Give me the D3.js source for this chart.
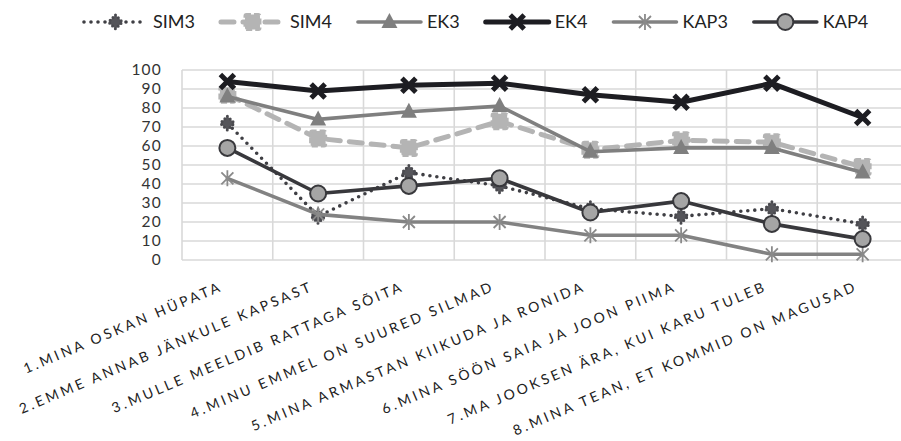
<!DOCTYPE html>
<html>
<head>
<meta charset="utf-8">
<script src="https://cdn.jsdelivr.net/npm/d3@7/dist/d3.min.js"></script>
<style>
  html, body { margin: 0; padding: 0; background: #fff; }
  svg { display: block; }
</style>
</head>
<body>
<svg id="chart" width="901" height="441"></svg>
<script>
// Sentences (categories) along the x axis
const categories = [
  "1.MINA OSKAN HÜPATA",
  "2.EMME ANNAB JÄNKULE KAPSAST",
  "3.MULLE MEELDIB RATTAGA SÕITA",
  "4.MINU EMMEL ON SUURED SILMAD",
  "5.MINA ARMASTAN KIIKUDA JA RONIDA",
  "6.MINA SÖÖN SAIA JA JOON PIIMA",
  "7.MA JOOKSEN ÄRA, KUI KARU TULEB",
  "8.MINA TEAN, ET KOMMID ON MAGUSAD"
];

// Series values (percent)
const sim3 = [72, 23, 46, 39, 27, 23, 27, 19];
const sim4 = [87, 64, 59, 73, 58, 63, 62, 49];
const ek3  = [86, 74, 78, 81, 57, 59, 59, 46];
const ek4  = [94, 89, 92, 93, 87, 83, 93, 75];
const kap3 = [43, 24, 20, 20, 13, 13, 3, 3];
const kap4 = [59, 35, 39, 43, 25, 31, 19, 11];

const yTicks = [0, 10, 20, 30, 40, 50, 60, 70, 80, 90, 100];

const series = [
  { name: "SIM3", values: sim3, stroke: "#3f3f44", width: 3.6, dash: "0 7", cap: "round", marker: "sim3" },
  { name: "SIM4", values: sim4, stroke: "#b4b4b4", width: 5,   dash: "13 9", cap: "round", marker: "square" },
  { name: "EK3",  values: ek3,  stroke: "#7f7f7f", width: 3.6, dash: null,   cap: "round", marker: "triangle" },
  { name: "EK4",  values: ek4,  stroke: "#1d1d22", width: 5,   dash: null,   cap: "round", marker: "x" },
  { name: "KAP3", values: kap3, stroke: "#828282", width: 3.6, dash: null,   cap: "round", marker: "star" },
  { name: "KAP4", values: kap4, stroke: "#38383c", width: 3.6, dash: null,   cap: "round", marker: "circle" }
];

const svg = d3.select("#chart");
const font = "Lato, 'Open Sans', sans-serif";

const plot = { left: 182, right: 908, top: 70, bottom: 260 };

const x = d3.scaleBand().domain(categories).range([plot.left, plot.right]);
const y = d3.scaleLinear().domain([0, 100]).range([plot.bottom, plot.top]);

// Gridlines
const grid = svg.append("g").attr("stroke", "#d9d9d9").attr("stroke-width", 1.6);
grid.selectAll("line.h").data(yTicks).join("line")
  .attr("x1", plot.left).attr("x2", plot.right)
  .attr("y1", d => y(d)).attr("y2", d => y(d));
const edges = categories.map(c => x(c)).concat([plot.right]);
grid.selectAll("line.v").data(edges).join("line")
  .attr("x1", d => d).attr("x2", d => d)
  .attr("y1", plot.top).attr("y2", plot.bottom);

// Y axis labels
const yAxis = d3.axisLeft(y).tickValues(yTicks).tickSize(0).tickPadding(20);
const yg = svg.append("g").attr("transform", `translate(${plot.left},0)`).call(yAxis);
yg.select(".domain").remove();
yg.selectAll("text")
  .attr("font-family", font).attr("font-size", 15.5)
  .attr("letter-spacing", 1.2).attr("fill", "#333");

// X axis labels, rotated
const xg = svg.append("g");
xg.selectAll("text").data(categories).join("text")
  .attr("transform", d => `translate(${x(d) + x.bandwidth() / 2 - 4},${plot.bottom + 30}) rotate(-23)`)
  .attr("text-anchor", "end")
  .attr("font-family", font)
  .attr("font-size", 14)
  .attr("letter-spacing", 3.0)
  .attr("fill", "#222")
  .text(d => d);

// Marker drawing
function drawMarker(g, type) {
  switch (type) {
    case "sim3":
      g.append("path")
        .attr("d", "M0,-7 L7,0 L0,7 L-7,0 Z")
        .attr("fill", "#55555a").attr("stroke", "#4a4a4f").attr("stroke-width", 3)
        .attr("stroke-dasharray", "0 4").attr("stroke-linecap", "round");
      break;
    case "square":
      g.append("rect").attr("x", -7.5).attr("y", -7.5).attr("width", 15).attr("height", 15)
        .attr("rx", 1.5)
        .attr("fill", "#b4b4b4").attr("stroke", "#b4b4b4").attr("stroke-width", 3)
        .attr("stroke-dasharray", "6 3").attr("stroke-dashoffset", 1.5);
      break;
    case "triangle":
      g.append("path").attr("d", "M0,-9 L8,6 L-8,6 Z").attr("fill", "#7f7f7f");
      break;
    case "x":
      g.append("path").attr("d", "M-7,-7 L7,7 M7,-7 L-7,7")
        .attr("stroke", "#1d1d22").attr("stroke-width", 5).attr("fill", "none");
      break;
    case "star":
      g.append("path").attr("d", "M-6,-6 L6,6 M6,-6 L-6,6 M0,-8 L0,8")
        .attr("stroke", "#8a8a8a").attr("stroke-width", 1.8).attr("fill", "none");
      break;
    case "circle":
      g.append("circle").attr("r", 8).attr("fill", "#a5a5a5")
        .attr("stroke", "#38383c").attr("stroke-width", 2);
      break;
  }
}

const line = d3.line()
  .x((d, i) => x(categories[i]) + x.bandwidth() / 2)
  .y(d => y(d));

// Series lines and markers
series.forEach(s => {
  const g = svg.append("g");
  g.append("path")
    .attr("d", line(s.values))
    .attr("fill", "none")
    .attr("stroke", s.stroke)
    .attr("stroke-width", s.width)
    .attr("stroke-linecap", s.cap)
    .attr("stroke-linejoin", "round")
    .attr("stroke-dasharray", s.dash);
  s.values.forEach((v, i) => {
    const m = g.append("g")
      .attr("transform", `translate(${x(categories[i]) + x.bandwidth() / 2},${y(v)})`);
    drawMarker(m, s.marker);
  });
});

// Legend
const legend = svg.append("g");
let lx = 84;
const ly = 22;
series.forEach(s => {
  const item = legend.append("g");
  item.append("line")
    .attr("x1", lx).attr("x2", lx + 63).attr("y1", ly).attr("y2", ly)
    .attr("stroke", s.stroke).attr("stroke-width", s.width)
    .attr("stroke-linecap", s.cap)
    .attr("stroke-dasharray", s.dash);
  drawMarker(item.append("g").attr("transform", `translate(${lx + 31.5},${ly})`), s.marker);
  const t = item.append("text")
    .attr("x", lx + 69).attr("y", ly).attr("dy", "0.35em")
    .attr("font-family", font).attr("font-size", 18).attr("fill", "#222")
    .text(s.name);
  lx += 69 + t.node().getComputedTextLength() + 26;
});
</script>
</body>
</html>
